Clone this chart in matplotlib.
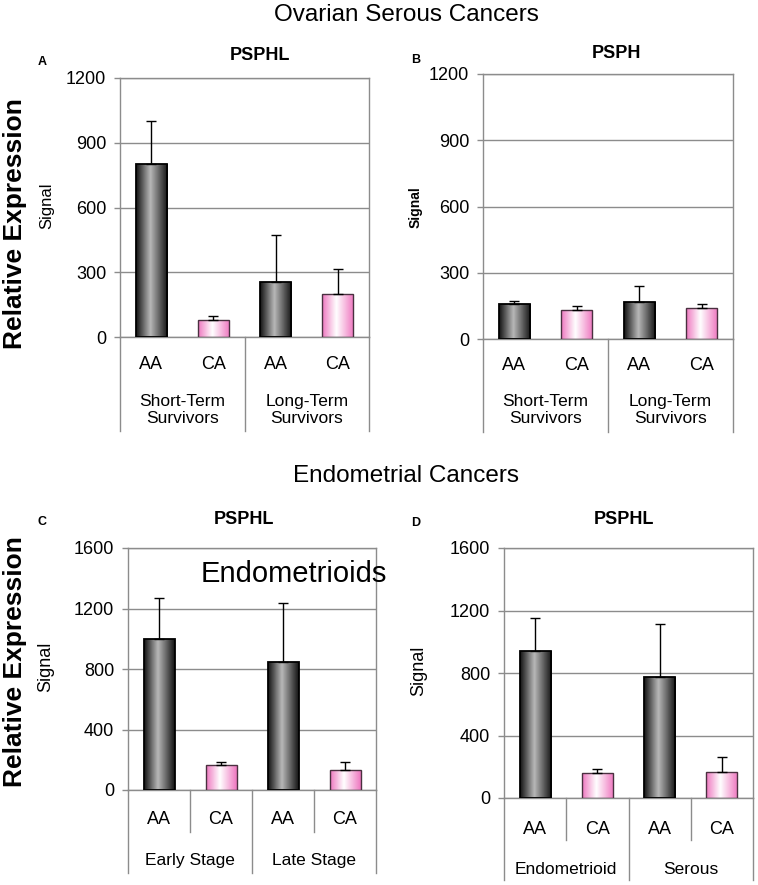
import numpy as np
import matplotlib
matplotlib.use('Agg')
import matplotlib.pyplot as plt
from matplotlib.colors import LinearSegmentedColormap

plt.rcParams['font.family'] = ['Liberation Sans', 'DejaVu Sans']

# Datos (media y barra de error superior)
razas = ['AA', 'CA', 'AA', 'CA']

grupos_ovario = ['Short-Term\nSurvivors', 'Long-Term\nSurvivors']
pspHL_ovario = [800, 80, 255, 200]
pspHL_ovario_err = [202, 19, 216, 117]
psph_ovario = [160, 133, 168, 139]
psph_ovario_err = [12, 18, 70, 21]

grupos_estadio = ['Early Stage', 'Late Stage']
pspHL_estadio = [1001, 165, 845, 130]
pspHL_estadio_err = [271, 22, 394, 57]

grupos_histo = ['Endometrioid', 'Serous']
pspHL_histo = [943, 160, 772, 166]
pspHL_histo_err = [210, 25, 341, 96]

W, H = 758, 885
fig = plt.figure(figsize=(W / 100, H / 100), dpi=100)

oscuro = LinearSegmentedColormap.from_list(
    'oscuro', [(0, '#141414'), (0.45, '#b8b8b8'), (1, '#141414')])
rosa = LinearSegmentedColormap.from_list(
    'rosa', [(0, '#ee78c0'), (0.45, '#ffffff'), (1, '#ee78c0')])
gris = '#8c8c8c'


def caja(izq, der, arriba, cero):
    # convierte pixeles de la imagen a fracciones de figura
    return [izq / W, 1 - cero / H, (der - izq) / W, (cero - arriba) / H]


def dibuja_panel(pos, medias, errores, grupos, ymax, paso, signal_bold,
                 cortos, lin_larga, lin_corta, y_raza, y_grupo):
    ax = fig.add_axes(caja(*pos))
    x = np.arange(len(medias))
    barras = ax.bar(x, medias, width=0.5, facecolor='none', zorder=3)
    grad = np.linspace(0, 1, 64).reshape(1, -1)
    for i, b in enumerate(barras):
        cmap = oscuro if razas[i] == 'AA' else rosa
        b.set_edgecolor('black' if razas[i] == 'AA' else '#4a3040')
        b.set_linewidth(1.3 if razas[i] == 'AA' else 1.0)
        im = ax.imshow(grad, cmap=cmap, aspect='auto', zorder=2,
                       interpolation='bilinear',
                       extent=[b.get_x(), b.get_x() + b.get_width(), 0, b.get_height()])
        im.set_clip_path(b)
    ax.errorbar(x, medias, yerr=[[0] * len(x), errores], fmt='none',
                ecolor='black', elinewidth=1, capsize=3.5, capthick=1, zorder=4)
    ax.set_xlim(-0.5, len(x) - 0.5)
    ax.set_ylim(0, ymax)
    ax.set_yticks(np.arange(0, ymax + 1, paso))
    ax.tick_params(axis='y', length=4, width=1, color=gris, pad=6, labelsize=13)
    ax.set_xticks([])
    ax.yaxis.grid(True, color=gris, lw=1)
    ax.set_axisbelow(True)
    for s in ax.spines.values():
        s.set_color(gris)
        s.set_linewidth(1)

    # eje de categorias en dos niveles, por debajo del eje
    alto_px = (pos[3] - pos[2])
    tr = ax.get_xaxis_transform()
    for xs in [-0.5, 1.5, 3.5]:
        ax.plot([xs, xs], [0, -lin_larga / alto_px], color=gris, lw=1,
                transform=tr, clip_on=False)
    if cortos:
        for xs in [0.5, 2.5]:
            ax.plot([xs, xs], [0, -lin_corta / alto_px], color=gris, lw=1,
                    transform=tr, clip_on=False)
    for i, r in enumerate(razas):
        ax.text(i, -y_raza / alto_px, r, transform=tr, ha='center',
                va='center', fontsize=13)
    for j, g in enumerate(grupos):
        ax.text(2 * j + 0.5, -y_grupo / alto_px, g, transform=tr, ha='center',
                va='center', fontsize=12.5, linespacing=1.15)
    return ax


# Paneles: (izq, der, arriba, cero) en pixeles
dibuja_panel((120, 369, 78, 337), pspHL_ovario, pspHL_ovario_err, grupos_ovario,
             1200, 300, False, False, 94, 0, 27, 73)
dibuja_panel((483, 733, 74, 339), psph_ovario, psph_ovario_err, grupos_ovario,
             1200, 300, True, False, 93, 0, 27, 71)
dibuja_panel((128, 376, 548, 790), pspHL_estadio, pspHL_estadio_err, grupos_estadio,
             1600, 400, False, True, 83, 42, 30, 71)
dibuja_panel((504, 753, 548, 798), pspHL_histo, pspHL_histo_err, grupos_histo,
             1600, 400, False, True, 82, 42, 31, 71)


def texto(xp, yp, s, **kw):
    fig.text(xp / W, 1 - yp / H, s, ha='center', va='center', **kw)


texto(406, 15, 'Ovarian Serous Cancers', fontsize=17.5)
texto(406, 476, 'Endometrial Cancers', fontsize=17.5)

texto(260, 55, 'PSPHL', fontsize=13, fontweight='bold')
texto(616, 54, 'PSPH', fontsize=13, fontweight='bold')
texto(244, 519, 'PSPHL', fontsize=13, fontweight='bold')
texto(624, 520, 'PSPHL', fontsize=13, fontweight='bold')

texto(42, 62, 'A', fontsize=9, fontweight='bold')
texto(416, 60, 'B', fontsize=9, fontweight='bold')
texto(42, 522, 'C', fontsize=9, fontweight='bold')
texto(416, 523, 'D', fontsize=9, fontweight='bold')

texto(15, 224, 'Relative Expression', fontsize=19, fontweight='bold', rotation=90)
texto(15, 662, 'Relative Expression', fontsize=19, fontweight='bold', rotation=90)

texto(47, 206, 'Signal', fontsize=12, rotation=90)
texto(416, 207, 'Signal', fontsize=10, fontweight='bold', rotation=90)
texto(46, 667, 'Signal', fontsize=13, rotation=90)
texto(419, 671, 'Signal', fontsize=13, rotation=90)

texto(294, 574, 'Endometrioids', fontsize=21)

fig.savefig('out.png', dpi=100)
